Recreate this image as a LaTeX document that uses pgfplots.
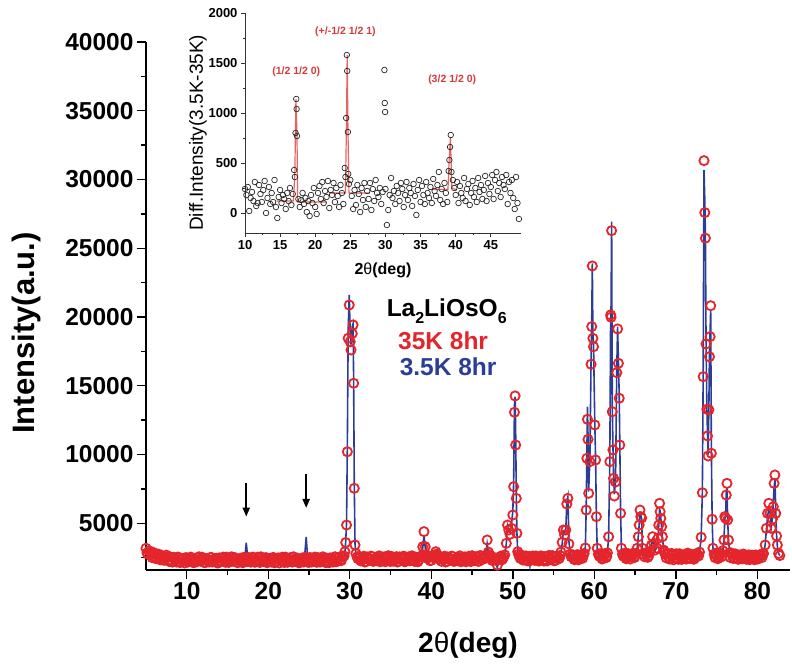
\documentclass[border=0pt]{standalone}
\usepackage{pgfplots}
\pgfplotsset{compat=1.18}
\usepackage{pgfplotstable}
\usepackage{fontspec}
\setmainfont{Liberation Sans}
\usetikzlibrary{arrows.meta}
\definecolor{myred}{RGB}{228,38,44}
\definecolor{myblue}{RGB}{42,62,152}
\definecolor{fitred}{RGB}{232,100,100}
\definecolor{annred}{RGB}{214,58,58}

\pgfplotstableread{
x a b
5.00 3180 3040
5.25 2740 2870
5.50 2890 2820
5.75 2500 2680
6.00 2800 2680
6.25 2520 2570
6.50 2760 2600
6.75 2340 2470
7.00 2540 2510
7.25 2320 2420
7.50 2680 2480
7.75 2310 2390
8.00 2540 2440
8.25 2170 2330
8.50 2460 2410
8.75 2180 2320
9.00 2520 2370
9.25 2170 2300
9.50 2410 2350
9.75 2110 2280
10.00 2480 2360
10.25 2270 2320
10.50 2540 2380
10.75 2160 2290
11.00 2360 2370
11.25 2200 2300
11.50 2560 2350
11.75 2240 2280
12.00 2450 2360
12.25 2130 2320
12.50 2390 2380
12.75 2180 2290
13.00 2520 2370
13.25 2250 2330
13.50 2410 2350
13.75 2110 2280
14.00 2480 2360
14.25 2270 2320
14.50 2540 2380
14.75 2160 2290
15.00 2360 2370
15.25 2200 2300
15.50 2560 2350
15.75 2240 2280
16.00 2450 2360
16.25 2130 2320
16.50 2390 2380
16.75 2180 2290
17.00 2520 2420
17.15 2200 2700
17.30 2480 3580
17.45 2240 2650
17.60 2500 2380
17.85 2170 2320
18.10 2540 2380
18.35 2160 2290
18.60 2360 2370
18.85 2200 2300
19.10 2560 2350
19.35 2240 2280
19.60 2450 2360
19.85 2130 2320
20.10 2390 2380
20.35 2180 2290
20.60 2520 2370
20.85 2170 2300
21.10 2410 2350
21.35 2110 2280
21.60 2480 2360
21.85 2270 2320
22.10 2540 2380
22.35 2160 2290
22.60 2360 2370
22.85 2200 2300
23.10 2560 2350
23.35 2240 2280
23.60 2450 2360
23.85 2130 2320
24.10 2390 2380
24.35 2180 2420
24.50 2520 2900
24.65 2250 4000
24.80 2470 2700
24.95 2150 2380
25.20 2480 2330
25.45 2270 2320
25.70 2540 2380
25.95 2160 2290
26.20 2360 2370
26.45 2200 2300
26.70 2560 2350
26.95 2240 2280
27.20 2450 2360
27.45 2130 2320
27.70 2390 2380
27.95 2180 2290
28.20 2560 2400
28.45 2220 2360
28.70 2520 2440
28.95 2280 2450
29.15 2620 2500
29.30 2620 2600
29.40 2930 2900
29.50 3600 3700
29.60 4870 5000
29.70 10200 10600
29.80 18450 19000
29.93 20870 21600
30.05 18200 18800
30.15 17600 18000
30.30 18800 19300
30.40 19420 19500
30.47 15180 15500
30.55 7540 7800
30.64 3420 3500
30.75 2800 2750
30.90 2550 2550
31.10 2590 2480
31.35 2260 2420
31.60 2500 2440
31.85 2180 2370
32.10 2550 2430
32.35 2340 2390
32.60 2610 2450
32.85 2230 2360
33.10 2430 2420
33.35 2270 2390
33.60 2630 2400
33.85 2310 2360
34.10 2520 2430
34.35 2200 2370
34.60 2560 2500
34.85 2300 2430
35.10 2590 2440
35.35 2240 2370
35.60 2480 2420
35.85 2180 2350
36.10 2550 2430
36.35 2340 2390
36.60 2610 2450
36.85 2230 2360
37.10 2430 2430
37.35 2270 2370
37.60 2630 2420
37.85 2310 2360
38.10 2520 2430
38.35 2200 2390
38.60 2560 2460
38.80 2550 2550
38.95 3290 3200
39.10 4390 4150
39.25 3300 3250
39.40 2650 2650
39.60 2650 2500
39.85 2280 2440
40.10 2580 2480
40.35 2600 2600
40.55 2930 2900
40.75 2650 2650
41.00 2590 2450
41.25 2230 2400
41.50 2480 2420
41.75 2180 2360
42.00 2550 2440
42.25 2340 2390
42.50 2610 2450
42.75 2230 2360
43.00 2430 2430
43.25 2270 2370
43.50 2630 2420
43.75 2310 2360
44.00 2520 2430
44.25 2200 2390
44.50 2460 2450
44.75 2250 2380
45.00 2640 2440
45.25 2290 2410
45.50 2530 2450
45.75 2230 2400
46.00 2660 2450
46.25 2360 2420
46.50 2600 2480
46.70 2650 2650
46.85 3780 3500
47.00 2900 2900
47.20 2700 2550
47.45 2300 2450
47.70 2500 2400
47.95 2300 2200
48.10 1950 1750
48.25 2350 2300
48.50 2600 2450
48.75 2400 2500
49.00 2700 2700
49.20 3540 3500
49.35 4870 4800
49.50 4510 4400
49.65 4200 4400
49.85 4630 5000
50.00 5600 5900
50.10 7660 8000
50.20 13070 13600
50.28 14260 14200
50.35 10690 11500
50.42 6810 7200
50.50 4270 4300
50.60 2930 2900
50.80 2600 2600
51.00 2700 2520
51.25 2320 2470
51.50 2600 2440
51.75 2280 2460
52.00 2580 2380
52.10 2400 1900
52.20 2300 2400
52.45 2620 2430
52.70 2300 2470
52.95 2540 2420
53.20 2250 2450
53.45 2630 2400
53.70 2320 2440
53.95 2570 2410
54.20 2260 2460
54.45 2660 2420
54.70 2370 2470
54.95 2600 2430
55.20 2300 2480
55.45 2620 2450
55.70 2450 2550
55.90 2900 2900
56.05 3610 3500
56.20 4510 4400
56.35 4150 4300
56.50 4510 4600
56.62 6400 6500
56.75 6810 6900
56.88 3500 3700
57.05 2750 2750
57.30 2700 2550
57.55 2350 2500
57.80 2650 2480
58.05 2340 2520
58.30 2690 2500
58.55 2450 2580
58.75 2800 2800
58.90 3200 3300
59.00 5960 6100
59.08 9720 9900
59.15 12560 13480
59.22 11100 11400
59.30 7180 7300
59.45 9480 9600
59.60 16560 17000
59.68 19300 19800
59.75 23710 23900
59.82 18450 18800
59.90 17840 18000
60.05 12150 12400
60.15 9600 9800
60.25 5480 5500
60.35 3180 3200
60.50 2750 2750
60.70 2780 2600
60.95 2400 2560
61.20 2720 2580
61.45 2500 2650
61.60 2850 2850
61.75 4020 4000
61.90 9480 9700
62.00 20150 20500
62.05 19980 20800
62.12 26280 26930
62.20 13110 13500
62.28 10330 10600
62.36 8270 8500
62.45 6980 7100
62.60 8000 8100
62.75 15950 16200
62.85 19130 19300
62.95 16630 16800
63.05 14090 14300
63.12 10690 10900
63.22 5720 5800
63.32 3180 3200
63.45 2750 2750
63.65 2800 2620
63.90 2420 2580
64.15 2790 2620
64.40 2400 2560
64.65 2760 2600
64.90 2500 2650
65.10 2800 2800
65.25 3180 3200
65.40 4020 4100
65.50 4870 4900
65.60 5960 5700
65.70 5480 5600
65.80 5380 5300
65.90 3180 3200
66.05 2750 2750
66.30 2850 2640
66.55 2520 2700
66.80 2950 2850
67.00 3400 3400
67.15 4020 3800
67.30 3540 3500
67.45 3050 3050
67.65 3200 3200
67.80 3900 3900
67.90 4870 4800
68.00 6450 6000
68.07 5840 5900
68.15 5360 5400
68.25 4750 4700
68.35 4020 4000
68.50 3050 3050
68.70 2750 2750
68.95 2800 2620
69.20 2400 2560
69.45 2810 2600
69.70 2340 2540
69.95 2730 2580
70.20 2470 2530
70.45 2780 2570
70.70 2370 2540
70.95 2620 2590
71.20 2420 2550
71.45 2830 2600
71.70 2470 2560
71.95 2730 2610
72.20 2380 2580
72.45 2680 2620
72.70 2600 2700
72.90 2900 2900
73.10 3980 3900
73.25 7220 7300
73.35 15660 16000
73.45 31370 30690
73.55 27590 28500
73.62 25730 26000
73.70 18040 18300
73.80 13290 13500
73.88 11350 11500
73.96 9890 10000
74.05 13250 13500
74.12 17110 17400
74.20 18570 19000
74.27 20820 20500
74.35 10090 10500
74.45 5290 5300
74.55 3180 3200
74.70 2750 2750
74.90 2810 2620
75.15 2420 2580
75.40 2700 2620
75.60 2560 2700
75.75 3000 3000
75.90 3780 3800
76.00 5480 5300
76.10 5360 5500
76.18 7050 7200
76.27 7900 7600
76.35 5240 5300
76.45 3780 3800
76.60 2850 2850
76.80 2840 2650
77.05 2440 2600
77.30 2770 2560
77.55 2410 2580
77.80 2570 2540
78.05 2440 2570
78.30 2760 2530
78.55 2470 2560
78.80 2640 2520
79.05 2350 2550
79.30 2570 2510
79.55 2390 2540
79.80 2690 2500
80.05 2400 2550
80.30 2710 2520
80.55 2500 2600
80.75 2800 2800
80.95 3420 3400
81.10 4630 4500
81.25 5720 5500
81.40 6450 6000
81.55 5720 5800
81.70 4630 4700
81.85 5300 5400
81.95 6200 6500
82.05 7900 7600
82.15 8510 8200
82.25 5720 6000
82.35 4070 4200
82.45 3420 3300
82.60 2800 2800
82.75 2650 2650
}\maindata

% further 35K points lying between the rows above (baseline)
\pgfplotstableread{
x a
5.125 2830
5.375 3000
5.625 2710
5.875 2880
6.125 2440
6.375 2670
6.625 2470
6.875 2670
7.125 2320
7.375 2480
7.625 2550
7.875 2210
8.125 2270
8.375 2520
8.625 2310
8.875 2540
9.125 2150
9.375 2420
9.625 2270
9.875 2500
10.125 2180
10.375 2360
10.625 2450
10.875 2130
11.125 2210
11.375 2480
11.625 2290
11.875 2530
12.125 2150
12.375 2420
12.625 2270
12.875 2500
13.125 2180
13.375 2360
13.625 2450
13.875 2130
14.125 2210
14.375 2480
14.625 2290
14.875 2530
15.125 2150
15.375 2420
15.625 2270
15.875 2500
16.125 2180
16.375 2360
16.625 2450
16.875 2130
17.075 2360
17.225 2300
17.375 2420
17.525 2250
17.725 2400
17.975 2210
18.225 2480
18.475 2290
18.725 2530
18.975 2150
19.225 2420
19.475 2270
19.725 2500
19.975 2180
20.225 2360
20.475 2450
20.725 2130
20.975 2210
21.225 2480
21.475 2290
21.725 2530
21.975 2150
22.225 2420
22.475 2270
22.725 2500
22.975 2180
23.225 2360
23.475 2450
23.725 2130
23.975 2210
24.225 2480
24.425 2290
24.575 2450
24.725 2200
24.875 2350
25.075 2500
25.325 2180
25.575 2420
25.825 2270
26.075 2500
26.325 2180
26.575 2360
26.825 2450
27.075 2130
27.325 2210
27.575 2480
27.825 2290
28.075 2530
28.325 2200
28.575 2450
28.825 2300
29.05 2560
31.00 2420
31.225 2550
31.475 2360
31.725 2600
31.975 2220
32.225 2490
32.475 2340
32.725 2570
32.975 2250
33.225 2430
33.475 2520
33.725 2200
33.975 2280
34.225 2550
34.475 2400
34.725 2640
34.975 2220
35.225 2490
35.475 2340
35.725 2570
35.975 2250
36.225 2430
36.475 2520
36.725 2200
36.975 2280
37.225 2550
37.475 2360
37.725 2600
37.975 2220
38.225 2490
38.475 2340
38.70 2600
39.50 2450
39.725 2550
39.975 2300
40.225 2500
40.45 2700
40.65 2750
40.875 2400
41.125 2550
41.375 2360
41.625 2600
41.875 2220
42.125 2490
42.375 2340
42.625 2570
42.875 2250
43.125 2430
43.375 2520
43.625 2200
43.875 2280
44.125 2550
44.375 2360
44.625 2600
44.875 2220
45.125 2490
45.375 2340
45.625 2570
45.875 2250
46.125 2430
46.375 2520
46.60 2450
47.10 2650
47.325 2500
47.575 2300
47.825 2450
48.375 2450
48.625 2330
48.875 2550
50.70 2750
50.90 2450
51.125 2550
51.375 2350
51.625 2620
51.875 2270
52.325 2550
52.575 2380
52.825 2620
53.075 2300
53.325 2480
53.575 2570
53.825 2250
54.075 2330
54.325 2600
54.575 2410
54.825 2650
55.075 2270
55.325 2540
55.575 2400
55.80 2650
57.175 2550
57.425 2680
57.675 2400
57.925 2720
58.175 2450
58.425 2580
58.65 2700
60.60 2600
60.825 2700
61.075 2450
61.325 2800
61.525 2600
63.55 2600
63.775 2700
64.025 2500
64.275 2680
64.525 2550
64.775 2820
65.00 2600
66.175 2560
66.425 2780
66.675 2650
68.60 2900
68.825 2480
69.075 2750
69.325 2450
69.575 2700
69.825 2500
70.075 2780
70.325 2380
70.575 2650
70.825 2500
71.075 2720
71.325 2400
71.575 2750
71.825 2450
72.075 2650
72.325 2500
72.575 2800
72.80 2650
74.80 2500
75.025 2700
75.275 2500
75.50 2800
76.70 2500
76.925 2750
77.175 2500
77.425 2720
77.675 2380
77.925 2700
78.175 2420
78.425 2620
78.675 2380
78.925 2700
79.175 2450
79.425 2680
79.675 2350
79.925 2600
80.175 2450
80.425 2650
80.65 2700
}\mainextra

\pgfplotstableread{
x y
10.0 240
10.2 180
10.4 260
10.6 20
10.8 150
11.0 210
11.2 120
11.4 310
11.6 70
11.8 100
12.0 280
12.2 190
12.4 110
12.6 230
12.8 320
13.0 0
13.2 150
13.4 260
13.6 90
13.8 200
14.0 110
14.2 330
14.4 60
14.6 -50
14.8 160
15.0 230
15.2 100
15.4 180
15.6 140
15.8 40
16.0 200
16.2 120
16.4 250
16.6 80
16.8 190
17.0 430
17.1 360
17.2 800
17.3 1140
17.35 1040
17.4 770
17.6 140
17.8 60
18.0 130
18.2 200
18.4 90
18.6 150
18.8 10
19.0 120
19.2 -30
19.4 180
19.6 100
19.8 250
20.0 60
20.2 -10
20.4 200
20.6 270
20.8 140
21.0 310
21.2 100
21.4 220
21.6 160
21.8 320
22.0 50
22.2 230
22.4 180
22.6 300
22.8 110
23.0 250
23.2 170
23.4 60
23.6 280
23.8 200
24.0 90
24.2 450
24.3 360
24.4 950
24.5 1580
24.55 1420
24.65 810
24.7 390
24.8 290
25.0 330
25.2 170
25.4 40
25.6 230
25.8 80
26.0 280
26.2 190
26.4 10
26.6 250
26.8 130
27.0 300
27.2 60
27.4 220
27.6 140
27.8 300
28.0 30
28.2 240
28.4 120
28.6 330
28.8 200
29.0 160
29.2 250
29.4 90
29.6 210
29.85 1430
29.9 1100
29.95 1010
30.0 240
30.2 -120
30.4 30
30.6 180
30.8 350
31.0 150
31.2 220
31.4 90
31.6 270
31.8 200
32.0 120
32.2 300
32.4 240
32.6 60
32.8 180
33.0 310
33.2 130
33.4 250
33.6 200
33.8 70
34.0 290
34.2 170
34.4 -20
34.6 230
34.8 330
35.0 110
35.2 270
35.4 180
35.6 90
35.8 310
36.0 200
36.2 150
36.4 260
36.6 100
36.8 340
37.0 220
37.2 170
37.4 280
37.6 410
37.8 130
38.0 240
38.2 90
38.4 300
38.6 200
38.8 110
39.0 420
39.1 530
39.2 660
39.3 780
39.4 410
39.6 330
39.8 250
40.0 180
40.2 310
40.4 100
40.6 270
40.8 200
41.0 150
41.2 350
41.4 120
41.6 240
41.8 290
42.0 80
42.2 200
42.4 320
42.6 160
42.8 250
43.0 110
43.2 350
43.4 210
43.6 280
43.8 140
44.0 230
44.2 370
44.4 120
44.6 300
44.8 190
45.0 260
45.2 380
45.4 140
45.6 330
45.8 410
46.0 220
46.2 300
46.4 160
46.6 360
46.8 280
47.0 240
47.2 380
47.4 90
47.6 310
47.8 200
48.0 330
48.2 150
48.4 40
48.6 360
48.8 100
49.0 -60
}\diffdata

\pgfplotstableread{
x y
14.5 120
16.9 120
17.1 400
17.25 1140
17.4 800
17.5 110
21.6 110
}\fitA
\pgfplotstableread{
x y
22.0 200
24.3 200
24.45 900
24.55 1580
24.65 900
24.8 200
27.8 200
}\fitB
\pgfplotstableread{
x y
36.6 235
38.9 235
39.05 500
39.25 760
39.45 250
40.2 230
}\fitC

\begin{document}
\begin{tikzpicture}
\path[use as bounding box] (0,0) rectangle (792pt,670pt);
\begin{axis}[
  at={(146pt,100pt)}, anchor=south west,
  width=644pt, height=528pt, scale only axis,
  xmin=5, xmax=84, ymin=1600, ymax=40000,
  axis x line*=bottom, axis y line*=left,
  axis line style={line width=1.4pt},
  every tick/.style={black, line width=1.4pt},
  tick align=outside,
  major tick length=9pt, minor tick length=5pt,
  xtick={10,20,...,80}, minor xtick={15,25,...,75},
  ytick={5000,10000,...,40000}, minor ytick={2500,7500,...,37500},
  scaled y ticks=false,
  yticklabels={5000,10000,15000,20000,25000,30000,35000,40000},
  /pgf/number format/assume math mode=true,
  /pgf/number format/1000 sep={},
  tick label style={font=\bfseries\fontsize{24.5}{26}\selectfont},
  xlabel={2{\fontseries{m}\selectfont θ}(deg)},
  xlabel style={font=\bfseries\fontsize{28}{30}\selectfont, at={(axis description cs:0.5,-0.142)}, anchor=center},
  ylabel={Intensity(a.u.)},
  ylabel style={font=\bfseries\fontsize{31}{33}\selectfont, at={(axis description cs:-0.186,0.449)}, anchor=center},
]
\addplot[only marks, mark=o, mark size=4.6pt, mark options={line width=1.8pt, draw=myred}] table[x=x, y=a]{\mainextra};
\addplot[only marks, mark=o, mark size=4.6pt, mark options={line width=1.8pt, draw=myred}] table[x=x, y=a]{\maindata};
\addplot[myblue, line width=1.6pt, no marks] table[x=x, y=b]{\maindata};
\draw[-{Triangle[length=9pt,width=7pt]}, line width=2pt] (axis cs:17.3,7950) -- (axis cs:17.3,5480);
\draw[-{Triangle[length=9pt,width=7pt]}, line width=2pt] (axis cs:24.65,8580) -- (axis cs:24.65,6110);
\node[anchor=base west, font=\bfseries\fontsize{24.5}{26}\selectfont] at (axis cs:34.1,20070) {La\raisebox{-0.32em}{\fontsize{16}{16}\selectfont 2}LiOsO\raisebox{-0.32em}{\fontsize{16}{16}\selectfont 6}};
\node[anchor=base west, text=myred, font=\bfseries\fontsize{24.5}{26}\selectfont] at (axis cs:35.5,17670) {35K 8hr};
\node[anchor=base west, text=myblue, font=\bfseries\fontsize{24.5}{26}\selectfont] at (axis cs:35.7,15780) {3.5K 8hr};
\end{axis}

\begin{axis}[
  at={(245pt,437pt)}, anchor=south west,
  width=276pt, height=220pt, scale only axis,
  xmin=10, xmax=49.3, ymin=-200, ymax=2000,
  axis x line*=bottom, axis y line*=left,
  axis line style={line width=0.8pt, black!80},
  every tick/.style={black!80, line width=0.8pt},
  tick align=outside,
  major tick length=4pt, minor tick length=2.5pt,
  xtick={10,15,...,45}, ytick={0,500,...,2000},
  minor x tick num=1, minor y tick num=1,
  /pgf/number format/assume math mode=true,
  /pgf/number format/1000 sep={},
  tick label style={font=\bfseries\fontsize{13}{14}\selectfont},
  xlabel={2{\fontseries{m}\selectfont θ}(deg)},
  xlabel style={font=\bfseries\fontsize{16}{17}\selectfont, at={(axis description cs:0.5,-0.168)}, anchor=center},
  ylabel={Diff.Intensity(3.5K-35K)},
  ylabel style={font=\fontsize{19}{20}\selectfont, at={(axis description cs:-0.17,0.455)}, anchor=center},
]
\addplot[fitred, line width=1.2pt, no marks] table[x=x, y=y]{\fitA};
\addplot[fitred, line width=1.2pt, no marks] table[x=x, y=y]{\fitB};
\addplot[fitred, line width=1.2pt, no marks] table[x=x, y=y]{\fitC};
\addplot[only marks, mark=o, mark size=2.8pt, mark options={line width=0.7pt, draw=black!85}] table[x=x, y=y]{\diffdata};
\node[text=annred, font=\bfseries\fontsize{10.5}{12}\selectfont] at (axis cs:17.3,1410) {(1/2 1/2 0)};
\node[text=annred, font=\bfseries\fontsize{10.5}{12}\selectfont] at (axis cs:24.3,1810) {(+/-1/2 1/2 1)};
\node[text=annred, font=\bfseries\fontsize{10.5}{12}\selectfont] at (axis cs:39.5,1330) {(3/2 1/2 0)};
\end{axis}
\end{tikzpicture}
\end{document}
